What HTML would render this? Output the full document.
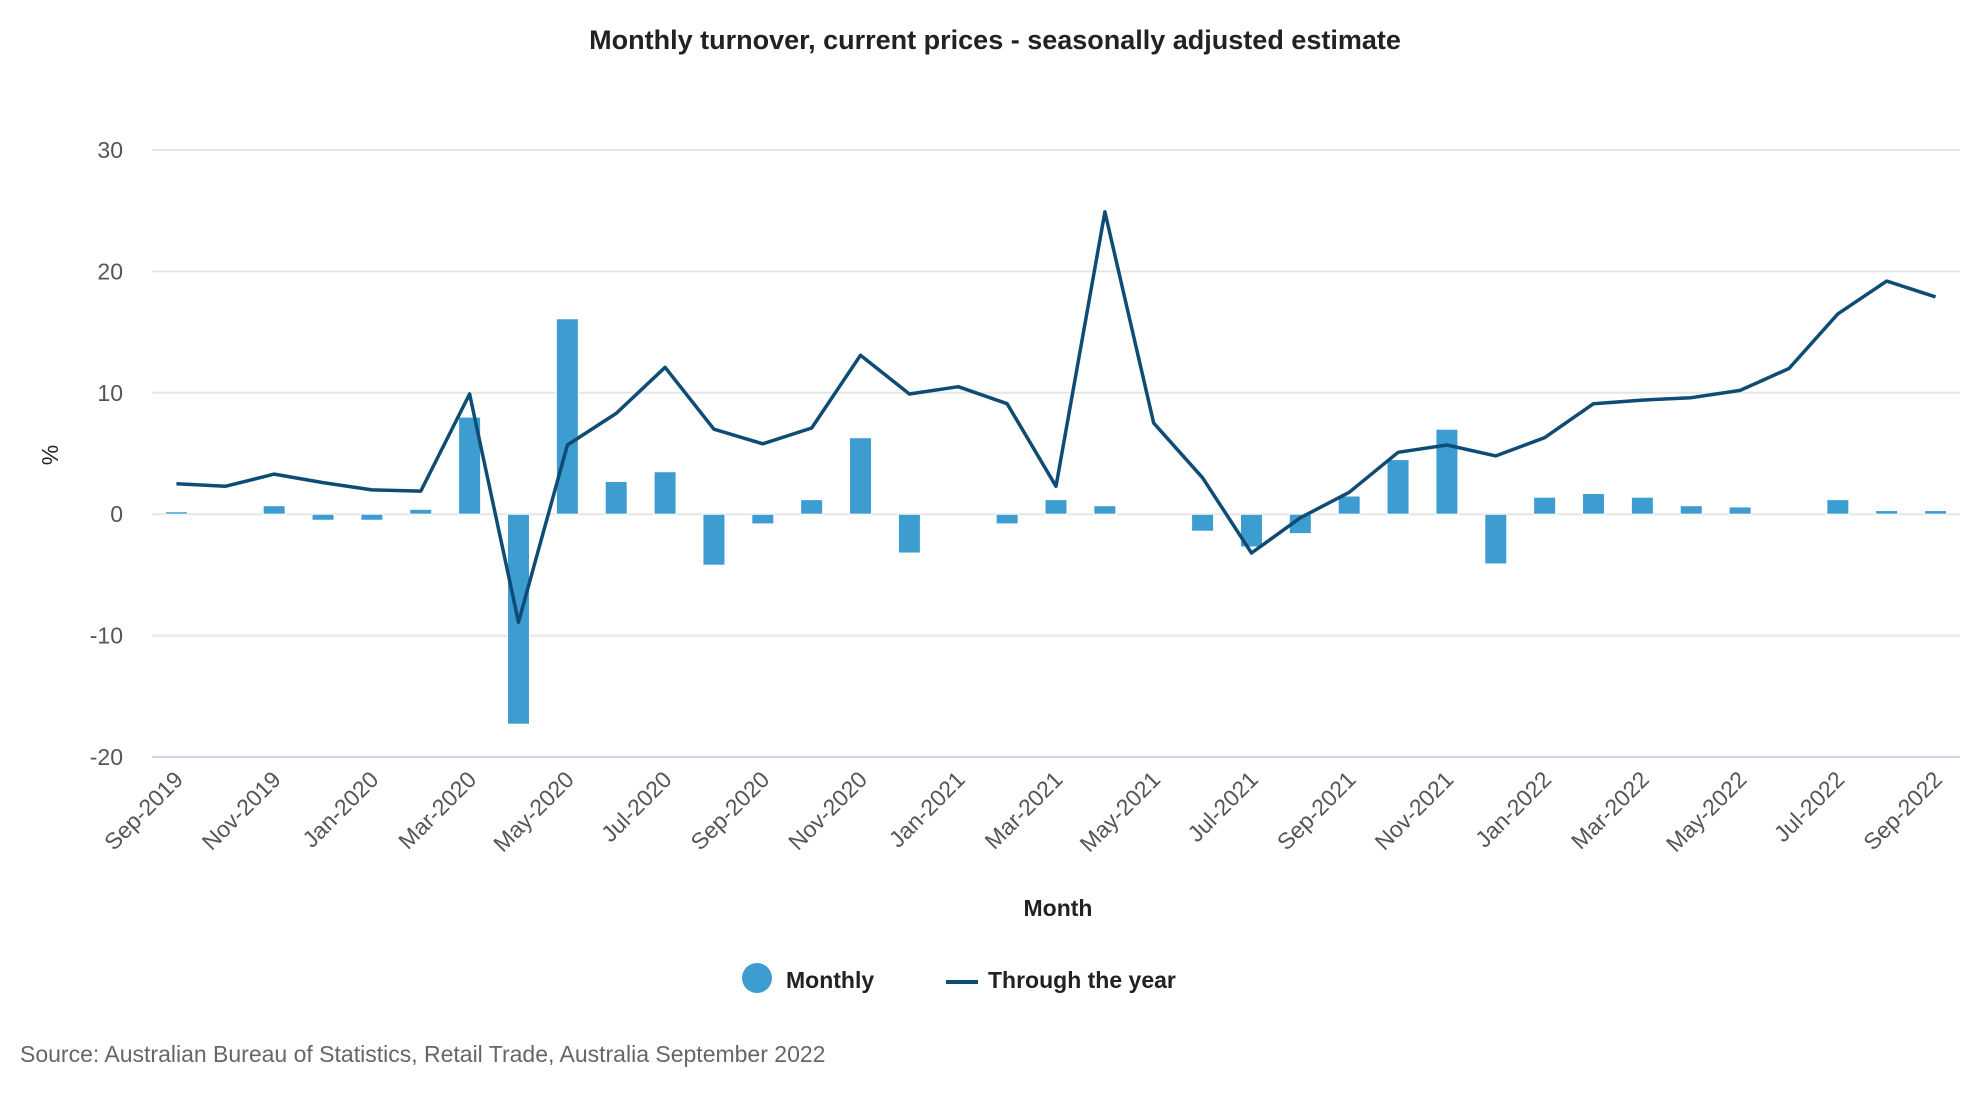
<!DOCTYPE html>
<html><head><meta charset="utf-8"><style>
html,body{margin:0;padding:0;background:#fff;}
svg text{font-family:"Liberation Sans",sans-serif;}
</style></head><body>
<svg id="chart" width="1980" height="1100" xmlns="http://www.w3.org/2000/svg">
<text x="995" y="49" text-anchor="middle" font-size="27" font-weight="bold" fill="#222">Monthly turnover, current prices - seasonally adjusted estimate</text>
<g id="grid"></g>
<g id="bars"></g>
<g id="line"></g>
<g id="yticks"></g>
<g id="xticks"></g>
<text transform="translate(58,455) rotate(-90)" text-anchor="middle" font-size="23" fill="#222">%</text>
<text x="1058" y="916" text-anchor="middle" font-size="23" fill="#222" font-weight="bold">Month</text>
<g>
<circle cx="757" cy="978" r="15" fill="#3d9dd1"/>
<text x="786" y="988" font-size="23" fill="#222" font-weight="bold">Monthly</text>
</g>
<g>
<line x1="946" y1="982" x2="978" y2="982" stroke="#0f4c75" stroke-width="4"/>
<text x="988" y="988" font-size="23" fill="#222" font-weight="bold">Through the year</text>
</g>
<text x="20" y="1062" font-size="23" fill="#666">Source: Australian Bureau of Statistics, Retail Trade, Australia September 2022</text>
</svg>
<script>
const categories=["Sep-2019","Oct-2019","Nov-2019","Dec-2019","Jan-2020","Feb-2020","Mar-2020","Apr-2020","May-2020","Jun-2020","Jul-2020","Aug-2020","Sep-2020","Oct-2020","Nov-2020","Dec-2020","Jan-2021","Feb-2021","Mar-2021","Apr-2021","May-2021","Jun-2021","Jul-2021","Aug-2021","Sep-2021","Oct-2021","Nov-2021","Dec-2021","Jan-2022","Feb-2022","Mar-2022","Apr-2022","May-2022","Jun-2022","Jul-2022","Aug-2022","Sep-2022"];
const monthly=[0.2,0,0.7,-0.5,-0.5,0.4,8.0,-17.3,16.1,2.7,3.5,-4.2,-0.8,1.2,6.3,-3.2,0,-0.8,1.2,0.7,0,-1.4,-2.7,-1.6,1.5,4.5,7.0,-4.1,1.4,1.7,1.4,0.7,0.6,0,1.2,0.3,0.3];
const throughYear=[2.5,2.3,3.3,2.6,2.0,1.9,9.9,-8.9,5.7,8.3,12.1,7.0,5.8,7.1,13.1,9.9,10.5,9.1,2.3,24.9,7.5,3.0,-3.2,-0.3,1.8,5.1,5.7,4.8,6.3,9.1,9.4,9.6,10.2,12.0,16.5,19.2,17.9];
const yTicks=[30,20,10,0,-10,-20];
const NS="http://www.w3.org/2000/svg";
const L=152,R=1960,T=150,B=757,ymin=-20,ymax=30;
const band=(R-L)/categories.length;
const x=i=>L+band*(i+0.5);
const y=v=>B-(v-ymin)/(ymax-ymin)*(B-T);
function mk(tag,attrs,parent){const e=document.createElementNS(NS,tag);for(const k in attrs)e.setAttribute(k,attrs[k]);parent.appendChild(e);return e;}
const grid=document.getElementById('grid'),yt=document.getElementById('yticks');
yTicks.forEach(v=>{
  const g=mk('line',{x1:L,x2:R,y1:y(v),y2:y(v),stroke:v===ymin?'#ccd6eb':'#e6e6e6','stroke-width':2},grid);
  
  
  const t=mk('text',{x:123,y:y(v)+8,'text-anchor':'end','font-size':23,fill:'#555'},yt);
  t.textContent=v;
  
  
});
const bars=document.getElementById('bars');
monthly.forEach((v,i)=>{
  const y0=y(0),y1=y(v);
  const r=mk('rect',{x:x(i)-11,y:Math.min(y0,y1),width:22,height:Math.abs(y1-y0),fill:'#3d9dd1',stroke:'#fff','stroke-width':1},bars);
  
  
});
const pts=throughYear.map((v,i)=>x(i).toFixed(1)+','+y(v).toFixed(1)).join(' ');
const pl=mk('polyline',{points:pts,fill:'none',stroke:'#0f4c75','stroke-width':3.5,'stroke-linejoin':'round'},document.getElementById('line'));


const xt=document.getElementById('xticks');
categories.forEach((c,i)=>{
  if(i%2)return;
  const t=mk('text',{transform:`translate(${x(i)+8},${B+24}) rotate(-45)`,'text-anchor':'end','font-size':23,fill:'#555'},xt);
  t.textContent=c;
  
  
});
</script>
</body></html>
